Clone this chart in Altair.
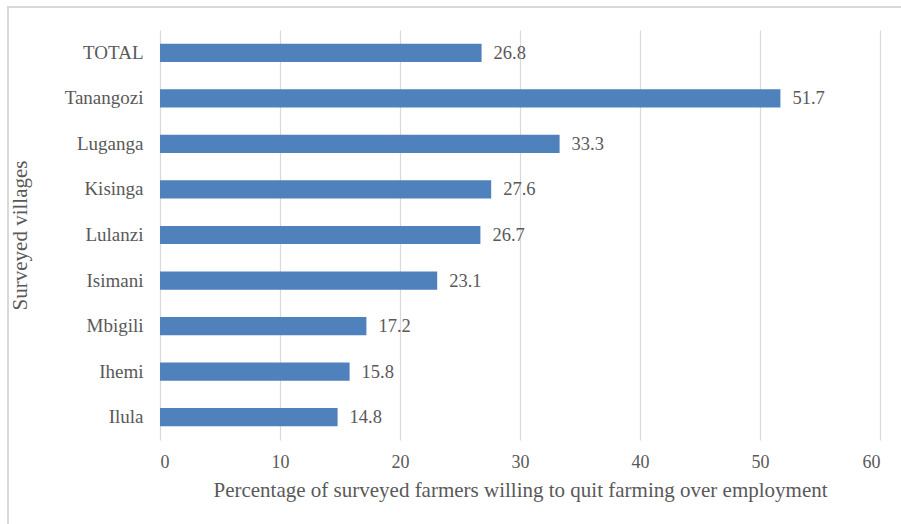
import altair as alt
import pandas as pd

villages = ["TOTAL", "Tanangozi", "Luganga", "Kisinga", "Lulanzi", "Isimani", "Mbigili", "Ihemi", "Ilula"]
percent = [26.8, 51.7, 33.3, 27.6, 26.7, 23.1, 17.2, 15.8, 14.8]
x_ticks = [0, 10, 20, 30, 40, 50, 60]

df = pd.DataFrame({"village": villages, "pct": percent})

FONT = "Liberation Serif"
TEXT = "#595959"

y_enc = alt.Y(
    "village:N",
    sort=villages,
    scale=alt.Scale(paddingInner=0.6, paddingOuter=0.3),
    axis=alt.Axis(
        title="Surveyed villages",
        titleFont=FONT, titleFontSize=21, titleFontWeight="normal", titleColor=TEXT,
        titlePadding=34,
        labelFont=FONT, labelFontSize=19, labelColor=TEXT, labelPadding=17,
        ticks=False, domain=False, grid=False,
    ),
)
x_enc = alt.X(
    "pct:Q",
    scale=alt.Scale(domain=[0, 60], nice=False),
    axis=alt.Axis(
        values=x_ticks, title="Percentage of surveyed farmers willing to quit farming over employment",
        titleFont=FONT, titleFontSize=21, titleFontWeight="normal", titleColor=TEXT,
        titlePadding=8,
        labelFont=FONT, labelFontSize=18, labelColor=TEXT, labelPadding=13,
        ticks=False, domain=False, grid=True, gridColor="#d9d9d9", gridWidth=1.2,
    ),
)

bars = alt.Chart(df).mark_bar(color="#4F81BD").encode(x=x_enc, y=y_enc)

labels = alt.Chart(df).mark_text(
    align="left", baseline="middle", dx=12, font=FONT, fontSize=18.5, color=TEXT
).encode(
    x="pct:Q",
    y=alt.Y("village:N", sort=villages),
    text=alt.Text("pct:Q", format=".1f"),
)

# light frame around the whole figure
frame = alt.Chart(df).mark_rect(
    fill=None, stroke="#d9d9d9", strokeWidth=1.5, clip=False
).encode(
    x=alt.value(-152), x2=alt.value(760), y=alt.value(-23), y2=alt.value(520)
)

chart = alt.layer(frame, bars, labels).properties(
    width=720,
    height=410,
    padding={"left": 160, "top": 30, "right": 21, "bottom": 84},
    autosize=alt.AutoSizeParams(type="none"),
    background="white",
).configure_view(stroke=None)

chart.save("out.html", embed_options={"renderer": "svg", "actions": False})
